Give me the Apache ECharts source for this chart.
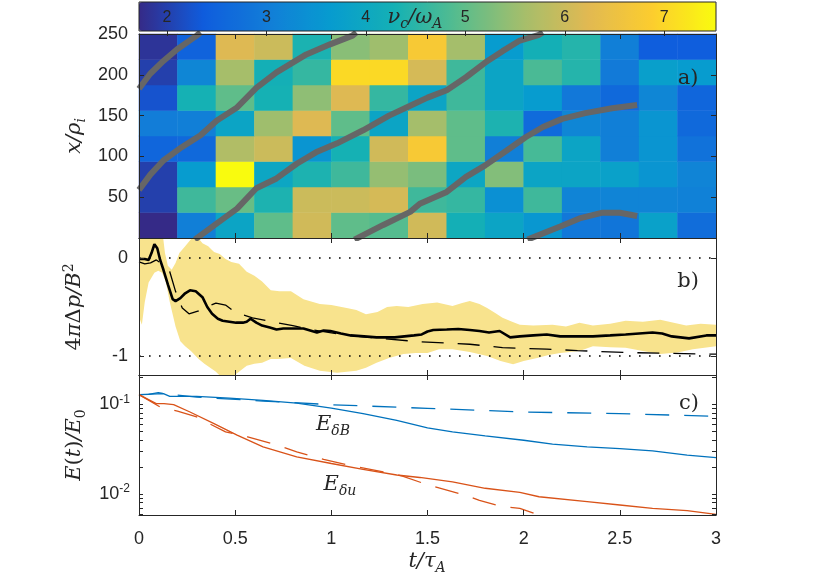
<!DOCTYPE html>
<html>
<head>
<meta charset="utf-8">
<script src="https://cdn.jsdelivr.net/npm/echarts@6/dist/echarts.min.js"></script>
<style>
html, body {margin: 0; padding: 0; background: #fff}
#chart {width: 829px; height: 581px}
</style>
</head>
<body>
<div id="chart"></div>
<script>
// a) nu_c / omega_A map, time bins (t/tau_A) x space bins (x/rho_i)
const binT = ['0.1', '0.3', '0.5', '0.7', '0.9', '1.1', '1.3', '1.5', '1.7', '1.9', '2.1', '2.3', '2.5', '2.7', '2.9']
const binX = ['16', '47', '78', '109', '141', '172', '203', '234']
const nuRow0 = [1.72, 3.05, 3.9, 4.99, 6.05, 4.99, 4.9, 6.05, 4.25, 3.9, 3.55, 2.92, 2.85, 3.8, 2.7]
const nuRow1 = [2.0, 4.7, 5.08, 4.37, 6.0, 6.0, 6.1, 4.7, 4.6, 3.4, 4.7, 3.15, 3.15, 3.15, 3.1]
const nuRow2 = [2.0, 3.65, 7.52, 3.95, 4.37, 4.7, 5.45, 5.22, 3.95, 5.3, 3.9, 3.9, 3.8, 3.5, 3.15]
const nuRow3 = [2.55, 2.62, 5.72, 6.0, 3.5, 4.3, 6.05, 6.75, 4.99, 3.05, 4.76, 3.9, 3.05, 3.5, 2.8]
const nuRow4 = [3.0, 3.05, 3.9, 5.54, 6.2, 4.99, 3.9, 5.59, 4.99, 4.37, 2.65, 3.2, 3.05, 3.5, 2.62]
const nuRow5 = [2.25, 4.3, 4.99, 4.3, 5.4, 6.2, 4.6, 3.9, 4.7, 3.9, 3.65, 2.92, 2.62, 3.2, 2.55]
const nuRow6 = [2.0, 3.2, 5.6, 4.25, 4.6, 7.05, 7.05, 6.1, 4.7, 3.9, 4.8, 4.45, 2.95, 3.75, 3.65]
const nuRow7 = [1.85, 2.5, 6.2, 6.0, 4.35, 5.35, 5.54, 6.75, 5.59, 3.65, 4.25, 4.45, 3.05, 2.4, 2.4]
const nuRows = [nuRow0, nuRow1, nuRow2, nuRow3, nuRow4, nuRow5, nuRow6, nuRow7]
const nuMin = 1.72
const nuMax = 7.52
const nuTicks = [2, 3, 4, 5, 6, 7]

// gray trajectories on the map
const trackAT = [0, 0.057, 0.127, 0.197, 0.3, 0.32]
const trackAX = [183, 201, 217, 231, 248, 252]
const trackBT = [0, 0.06, 0.127, 0.22, 0.32, 0.405, 0.51, 0.61, 0.715, 0.87, 0.99, 1.11, 1.13]
const trackBX = [59, 78, 95, 111, 126, 144, 160, 184, 203, 225, 237, 248, 252]
const trackCT = [0.29, 0.405, 0.51, 0.61, 0.715, 0.82, 0.92, 1.03, 1.165, 1.3, 1.41, 1.5, 1.6, 1.7, 1.8, 1.89, 1.98, 2.08, 2.1]
const trackCX = [-2, 18, 36, 61, 73, 91, 105, 116, 132, 150, 162, 172, 181, 197, 215, 229, 242, 249, 252]
const trackDT = [1.12, 1.27, 1.41, 1.46, 1.6, 1.7, 1.8, 1.91, 2.01, 2.1, 2.2, 2.32, 2.46, 2.59]
const trackDX = [-2, 16, 32, 42, 56.5, 75, 89, 107, 123.5, 136, 146, 153, 159, 163]
const trackET = [2.02, 2.19, 2.29, 2.41, 2.5, 2.59]
const trackEX = [-2, 14, 24, 31, 31, 27]

// b) 4 pi dp / B^2
const dpT = [0, 0.03, 0.05, 0.065, 0.08, 0.095, 0.11, 0.127, 0.15, 0.175, 0.19, 0.215, 0.24, 0.265, 0.295, 0.33, 0.355, 0.38, 0.41, 0.435, 0.47, 0.505, 0.54, 0.56, 0.58, 0.61, 0.64, 0.68, 0.715, 0.75, 0.8, 0.855, 0.89, 0.925, 0.96, 0.995, 1.05, 1.1, 1.17, 1.235, 1.33, 1.43, 1.47, 1.5, 1.53, 1.6, 1.66, 1.72, 1.77, 1.82, 1.875, 1.93, 1.98, 2.05, 2.12, 2.19, 2.28, 2.36, 2.45, 2.53, 2.6, 2.67, 2.72, 2.77, 2.86, 2.95, 3]
const dpMean = [-0.01, -0.01, -0.02, 0.05, 0.14, 0.1, -0.02, -0.12, -0.27, -0.42, -0.44, -0.41, -0.36, -0.33, -0.34, -0.4, -0.5, -0.57, -0.62, -0.64, -0.65, -0.66, -0.66, -0.65, -0.62, -0.66, -0.69, -0.71, -0.73, -0.72, -0.72, -0.72, -0.74, -0.76, -0.74, -0.745, -0.77, -0.79, -0.8, -0.81, -0.81, -0.79, -0.78, -0.75, -0.735, -0.73, -0.725, -0.735, -0.745, -0.76, -0.745, -0.81, -0.8, -0.79, -0.78, -0.8, -0.8, -0.8, -0.79, -0.78, -0.77, -0.76, -0.77, -0.8, -0.82, -0.79, -0.79]
const fitT = [0, 0.03, 0.06, 0.09, 0.12, 0.16, 0.19, 0.225, 0.26, 0.31, 0.35, 0.4, 0.45, 0.505, 0.59, 0.715, 0.8, 0.905, 1.08, 1.25, 1.46, 1.72, 1.89, 2.12, 2.28, 2.53, 2.95, 3]
const fitDp = [-0.04, -0.06, -0.05, -0.02, -0.06, -0.14, -0.34, -0.51, -0.57, -0.54, -0.5, -0.46, -0.48, -0.56, -0.61, -0.66, -0.69, -0.735, -0.79, -0.82, -0.855, -0.88, -0.915, -0.93, -0.945, -0.965, -0.98, -0.98]
const bandHiT = [0, 0.12, 0.135, 0.15, 0.17, 0.19, 0.21, 0.24, 0.27, 0.29, 0.31, 0.33, 0.36, 0.39, 0.42, 0.45, 0.48, 0.52, 0.56, 0.6, 0.64, 0.685, 0.73, 0.79, 0.855, 0.94, 1, 1.08, 1.13, 1.18, 1.24, 1.29, 1.34, 1.4, 1.475, 1.55, 1.63, 1.68, 1.72, 1.77, 1.81, 1.85, 1.89, 1.94, 1.98, 2.05, 2.15, 2.22, 2.29, 2.36, 2.45, 2.53, 2.62, 2.71, 2.78, 2.845, 2.92, 3]
const bandHi = [0.3, 0.3, 0.05, -0.08, -0.12, -0.05, 0.05, 0.12, 0.19, 0.22, 0.2, 0.15, 0.12, 0.06, 0.04, -0.01, -0.04, -0.06, -0.14, -0.18, -0.24, -0.33, -0.34, -0.34, -0.42, -0.47, -0.48, -0.51, -0.53, -0.575, -0.55, -0.5, -0.49, -0.5, -0.47, -0.455, -0.49, -0.46, -0.44, -0.47, -0.51, -0.56, -0.61, -0.65, -0.68, -0.69, -0.68, -0.7, -0.66, -0.69, -0.67, -0.64, -0.65, -0.63, -0.66, -0.69, -0.67, -0.68]
const bandLoT = [0, 0.015, 0.03, 0.05, 0.08, 0.1, 0.12, 0.14, 0.16, 0.19, 0.215, 0.24, 0.27, 0.31, 0.34, 0.37, 0.4, 0.42, 0.45, 0.48, 0.52, 0.56, 0.6, 0.64, 0.685, 0.72, 0.79, 0.86, 0.94, 1.03, 1.13, 1.18, 1.235, 1.3, 1.375, 1.44, 1.5, 1.56, 1.63, 1.72, 1.81, 1.88, 1.945, 2, 2.07, 2.13, 2.19, 2.29, 2.36, 2.45, 2.53, 2.62, 2.71, 2.8, 2.88, 3]
const bandLo = [-0.6, -0.68, -0.45, -0.25, -0.15, -0.13, -0.15, -0.25, -0.45, -0.7, -0.85, -0.9, -0.95, -1.03, -1.08, -1.12, -1.16, -1.2, -1.22, -1.22, -1.16, -1.1, -1.08, -1.07, -1.03, -1.03, -1.02, -1.1, -1.15, -1.17, -1.15, -1.12, -1.07, -1.02, -0.98, -0.97, -0.97, -0.93, -0.93, -0.96, -1, -1.05, -1.085, -1.05, -1.02, -0.99, -0.97, -0.95, -0.9, -0.91, -0.915, -0.95, -0.98, -0.965, -0.93, -0.9]

// c) energies E(t)/E0
const eBT = [0, 0.127, 0.16, 0.3, 0.47, 0.645, 0.82, 1, 1.165, 1.34, 1.5, 1.63, 1.8, 2, 2.15, 2.33, 2.5, 2.67, 2.85, 3]
const eB = [0.1282, 0.1315, 0.1227, 0.1227, 0.1175, 0.1107, 0.1033, 0.091, 0.0787, 0.0664, 0.0547, 0.0493, 0.0445, 0.0398, 0.036, 0.0336, 0.0321, 0.0303, 0.0271, 0.0255]
const eBFitT = [0, 0.05, 0.1, 0.13, 0.3, 0.645, 1, 1.5, 2, 2.5, 3]
const eBFit = [0.1282, 0.1294, 0.1349, 0.1315, 0.1202, 0.1089, 0.0991, 0.0902, 0.0822, 0.0787, 0.0736]
const eUT = [0, 0.09, 0.13, 0.18, 0.265, 0.39, 0.51, 0.645, 0.82, 1, 1.165, 1.34, 1.46, 1.63, 1.8, 1.98, 2.08, 2.33, 2.5, 2.67, 2.85, 3]
const eU = [0.1282, 0.1019, 0.1019, 0.0991, 0.0822, 0.061, 0.0453, 0.0336, 0.026, 0.0219, 0.0188, 0.0163, 0.0153, 0.0137, 0.0116, 0.01045, 0.00933, 0.00822, 0.00755, 0.00693, 0.00653, 0.00594]
const eUFitT = [0, 0.11, 0.2, 0.3, 0.365, 0.45, 0.565, 0.72, 0.82, 0.96, 1.09, 1.27, 1.37, 1.51, 1.69, 1.77, 1.89, 1.98, 2.1]
const eUFit = [0.1282, 0.0933, 0.0841, 0.0723, 0.061, 0.0493, 0.0434, 0.035, 0.0295, 0.0243, 0.021, 0.0177, 0.0158, 0.0125, 0.00977, 0.00851, 0.00724, 0.00692, 0.00562]
const eMin = 0.00584
const eMax = 0.2124
const eLabelTicks = [0.01, 0.1]
const eMinorTicks = [0.006, 0.007, 0.008, 0.009, 0.01, 0.02, 0.03, 0.04, 0.05, 0.06, 0.07, 0.08, 0.09, 0.1, 0.2]

const parula = ['#352a87', '#0f5cdd', '#127dd8', '#079ccf', '#15b1b4', '#59bd8c', '#a5be6b', '#e1b952', '#fccd2e', '#f9fb0e']
const ink = '#262626'
const sans = 'Liberation Sans'
const serif = 'DejaVu Serif'

const zip = (xs, ys) => xs.map((x, i) => [x, ys[i]])
const zipLog = (xs, ys) => xs.map((x, i) => [x, Math.log10(ys[i])])

const heatData = []
nuRows.forEach((row, r) => row.forEach((v, c) => heatData.push([c, r, v])))

const PANEL_L = 139
const PANEL_W = 577

function frameAxis(extra) {
	return Object.assign({
		type: 'value',
		z: 10,
		axisLine: {show: true, onZero: false, lineStyle: {color: ink, width: 1}},
		axisTick: {show: true, inside: true, length: 5, lineStyle: {color: ink, width: 1}},
		axisLabel: {show: false},
		splitLine: {show: false}
	}, extra)
}

const tickLabel = {show: true, fontFamily: sans, fontSize: 18, color: ink}
const timeAxis = {min: 0, max: 3, interval: 0.5}
const dpAxis = {min: -1.194, max: 0.204}
const eAxis = {min: Math.log10(eMin), max: Math.log10(eMax)}
const eTick = {show: true, inside: true, length: 4, lineStyle: {color: ink}, customValues: eMinorTicks.map(Math.log10)}

function track(ts, xs) {
	return {
		type: 'line', xAxisIndex: 2, yAxisIndex: 2, data: zip(ts, xs), symbol: 'none', z: 5,
		lineStyle: {color: '#666666', width: 6, cap: 'butt'}, silent: true
	}
}

function energy(ts, es, color, dashed) {
	return {
		type: 'line', xAxisIndex: 6, yAxisIndex: 6, data: zipLog(ts, es), symbol: 'none', z: 4,
		lineStyle: {color, width: 1.3, type: dashed ? [24, 15] : 'solid'}, silent: true
	}
}

const mathRich = {
	i: {fontFamily: serif, fontStyle: 'italic', fontSize: 21, lineHeight: 26, fill: ink},
	r: {fontFamily: serif, fontSize: 21, lineHeight: 26, fill: ink},
	sub: {fontFamily: serif, fontStyle: 'italic', fontSize: 14, fill: ink, verticalAlign: 'bottom'},
	subr: {fontFamily: serif, fontSize: 14, fill: ink, verticalAlign: 'bottom'},
	sup: {fontFamily: serif, fontSize: 14, fill: ink, verticalAlign: 'top'}
}

function label(x, y, text, rotation) {
	return {
		type: 'text', x, y, z: 30, rotation: rotation || 0,
		style: {text, rich: mathRich, align: 'center', verticalAlign: 'middle', fill: ink, font: '21px "DejaVu Serif"'}
	}
}

const chart = echarts.init(document.getElementById('chart'))
chart.setOption({
	animation: false,
	backgroundColor: '#fff',
	grid: [
		{left: PANEL_L, top: 2, width: PANEL_W, height: 29, show: true, z: 10, backgroundColor: 'transparent', borderColor: ink, borderWidth: 1},
		{left: PANEL_L, top: 34, width: PANEL_W, height: 204},
		{left: PANEL_L, top: 34, width: PANEL_W, height: 204},
		{left: PANEL_L, top: 238, width: PANEL_W, height: 137},
		{left: PANEL_L, top: 375, width: PANEL_W, height: 140}
	],
	visualMap: {
		type: 'continuous', seriesIndex: 0, min: nuMin, max: nuMax, orient: 'horizontal',
		left: PANEL_L, top: 2, itemWidth: 29, itemHeight: PANEL_W, padding: 0,
		calculable: false, hoverLink: false, inRange: {color: parula}
	},
	xAxis: [
		{
			type: 'value', gridIndex: 0, position: 'top', min: nuMin, max: nuMax, z: 12,
			axisLine: {show: false},
			axisTick: {show: true, inside: true, length: 5, customValues: nuTicks, lineStyle: {color: ink}},
			axisLabel: {show: true, inside: true, margin: 8, customValues: nuTicks, fontFamily: sans, fontSize: 16, color: ink},
			splitLine: {show: false}
		},
		{type: 'category', gridIndex: 1, data: binT, show: false},
		frameAxis(Object.assign({gridIndex: 2}, timeAxis)),
		frameAxis(Object.assign({gridIndex: 2, position: 'top'}, timeAxis)),
		frameAxis(Object.assign({gridIndex: 3}, timeAxis)),
		frameAxis(Object.assign({gridIndex: 3, position: 'top'}, timeAxis)),
		frameAxis(Object.assign({gridIndex: 4, axisLabel: Object.assign({margin: 15}, tickLabel)}, timeAxis)),
		frameAxis(Object.assign({gridIndex: 4, position: 'top'}, timeAxis))
	],
	yAxis: [
		{type: 'value', gridIndex: 0, show: false, min: 0, max: 1},
		{type: 'category', gridIndex: 1, data: binX, show: false},
		frameAxis({gridIndex: 2, min: 0, max: 250, interval: 50, axisLabel: Object.assign({margin: 11, showMinLabel: false}, tickLabel)}),
		frameAxis({gridIndex: 2, min: 0, max: 250, interval: 50, position: 'right'}),
		frameAxis(Object.assign({
			gridIndex: 3,
			axisTick: {show: true, inside: true, length: 5, customValues: [-1, 0], lineStyle: {color: ink}},
			axisLabel: Object.assign({margin: 11, customValues: [-1, 0]}, tickLabel)
		}, dpAxis)),
		frameAxis(Object.assign({
			gridIndex: 3, position: 'right',
			axisTick: {show: true, inside: true, length: 5, customValues: [-1, 0], lineStyle: {color: ink}}
		}, dpAxis)),
		frameAxis(Object.assign({
			gridIndex: 4, axisTick: eTick,
			axisLabel: Object.assign({
				margin: 9, customValues: eLabelTicks.map(Math.log10),
				formatter: v => '{b|10}{s|' + Math.round(v) + '}',
				rich: {b: {fontFamily: sans, fontSize: 18, color: ink, lineHeight: 22}, s: {fontFamily: sans, fontSize: 12, color: ink, verticalAlign: 'top'}}
			}, tickLabel)
		}, eAxis)),
		frameAxis(Object.assign({gridIndex: 4, position: 'right', axisTick: eTick}, eAxis))
	],
	series: [
		{
			type: 'heatmap', xAxisIndex: 1, yAxisIndex: 1, data: heatData,
			itemStyle: {borderWidth: 0}, emphasis: {disabled: true}, silent: true
		},
		track(trackAT, trackAX),
		track(trackBT, trackBX),
		track(trackCT, trackCX),
		track(trackDT, trackDX),
		track(trackET, trackEX),
		{
			type: 'custom', xAxisIndex: 4, yAxisIndex: 4, data: [[0, 0]], z: 1, silent: true,
			renderItem: (params, api) => {
				const hi = zip(bandHiT, bandHi).map(p => api.coord(p))
				const lo = zip(bandLoT, bandLo).map(p => api.coord(p)).reverse()
				const cs = params.coordSys
				return {
					type: 'group',
					clipPath: {type: 'rect', shape: {x: cs.x, y: cs.y, width: cs.width, height: cs.height}},
					children: [{type: 'polygon', shape: {points: hi.concat(lo)}, style: {fill: '#f8e38d'}}]
				}
			}
		},
		{
			type: 'line', xAxisIndex: 4, yAxisIndex: 4, data: zip(dpT, dpMean), symbol: 'none', z: 4, silent: true,
			lineStyle: {color: '#000', width: 2.6},
			markLine: {
				silent: true, symbol: 'none', label: {show: false},
				lineStyle: {color: '#000', width: 1.6, type: [1.6, 8.4]},
				data: [{yAxis: 0}, {yAxis: -1}]
			}
		},
		{
			type: 'line', xAxisIndex: 4, yAxisIndex: 4, data: zip(fitT, fitDp), symbol: 'none', z: 4, silent: true,
			lineStyle: {color: '#000', width: 1.3, type: [22, 14]}
		},
		energy(eBT, eB, '#0072bd', false),
		energy(eBFitT, eBFit, '#0072bd', true),
		energy(eUT, eU, '#d95319', false),
		energy(eUFitT, eUFit, '#d95319', true)
	],
	graphic: [
		label(415, 18, '{i|ν}{sub|c}{i|/ω}{sub|A}'),
		label(75, 136, '{i|x/ρ}{sub|i}', Math.PI / 2),
		label(75, 307, '{r|4}{i|π}{r|Δ}{i|p/B}{sup|2}', Math.PI / 2),
		label(75, 445, '{i|E}{r|(}{i|t}{r|)}{i|/E}{subr|0}', Math.PI / 2),
		label(427, 562, '{i|t/τ}{sub|A}'),
		label(333, 425, '{i|E}{sub|δB}'),
		label(340, 485, '{i|E}{sub|δu}'),
		label(688, 79, '{r|a)}'),
		label(688, 282, '{r|b)}'),
		label(689, 404, '{r|c)}')
	]
})
</script>
</body>
</html>
